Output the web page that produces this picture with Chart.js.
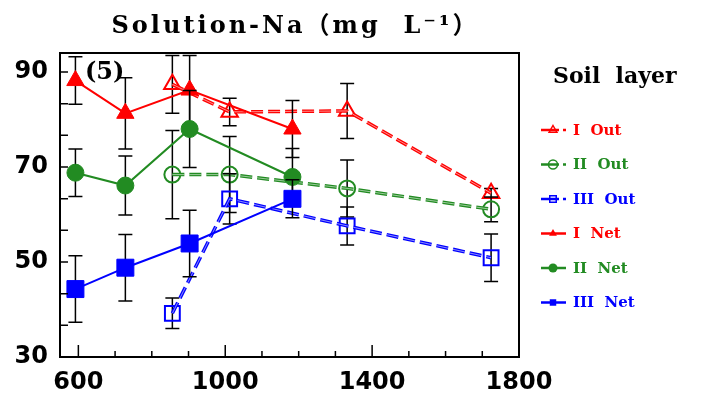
<!DOCTYPE html>
<html>
<head>
<meta charset="utf-8">
<script src="https://cdn.jsdelivr.net/npm/chart.js@4/dist/chart.umd.min.js"></script>
<style>
html, body { margin: 0; padding: 0; background: #fff; }
#wrap { width: 702px; height: 396px; }
</style>
</head>
<body>
<div id="wrap"><canvas id="na-chart"></canvas></div>
<script>
// x positions of the samples
const outX = [856, 1012, 1332, 1724];
const netX = [592, 728, 903, 1183];

// Solution-Na, mg/L
const outI = [87.4, 81.6, 81.8, 64.5];
const outII = [68.4, 68.4, 65.5, 61.1];
const outIII = [39.2, 63.3, 57.6, 50.9];
const netI = [88.2, 81.3, 86.2, 78.0];
const netII = [68.8, 66.1, 78.0, 67.9];
const netIII = [44.3, 48.8, 53.9, 63.3];

// error bars (+/-)
const outIErr = [6.1, 2.9, 5.8, 1.0];
const outIIErr = [9.3, 8.0, 6.0, 2.6];
const outIIIErr = [3.2, 5.3, 4.0, 5.0];
const netIErr = [5.0, 7.5, 7.3, 6.0];
const netIIErr = [5.0, 6.2, 8.1, 6.0];
const netIIIErr = [7.0, 7.0, 7.0, 4.0];

const seriesLabels = ['I  Out', 'II  Out', 'III  Out', 'I  Net', 'II  Net', 'III  Net'];
const xTicks = [600, 1000, 1400, 1800];
const yTicks = [30, 50, 70, 90];
const titleText = 'Solution-Na\uFF08mg  L\u207B\u00B9\uFF09';
const panelTag = '(5)';
const legendTitle = 'Soil  layer';

const RED = '#ff0000';
const GREEN = '#228b22';
const BLUE = '#0000ff';

function toPts(xs, ys) {
    return xs.map((x, i) => ({x: x, y: ys[i]}));
}

function outSet(label, xs, ys, err, color, style, r, order) {
    return {
        label: label, data: toPts(xs, ys), err: err,
        borderColor: color, borderWidth: 3.5, borderDash: [12, 5],
        pointStyle: style, pointRadius: r, pointBorderWidth: 2,
        pointBorderColor: color, pointBackgroundColor: 'rgba(0,0,0,0)',
        order: order, open: true
    };
}

function netSet(label, xs, ys, err, color, style, r, order) {
    return {
        label: label, data: toPts(xs, ys), err: err,
        borderColor: color, borderWidth: 2,
        pointStyle: style, pointRadius: r, pointBorderWidth: 1,
        pointBorderColor: color, pointBackgroundColor: color,
        order: order, open: false
    };
}

function drawMarker(c, style, x, y, r, filled, color) {
    c.beginPath();
    if (style === 'triangle') {
        c.moveTo(x, y - r);
        c.lineTo(x + r * 0.866, y + r / 2);
        c.lineTo(x - r * 0.866, y + r / 2);
        c.closePath();
    } else if (style === 'circle') {
        c.arc(x, y, r, 0, Math.PI * 2);
    } else {
        c.rect(x - r * 0.72, y - r * 0.72, r * 1.44, r * 1.44);
    }
    if (filled) {
        c.fillStyle = color;
        c.fill();
    } else {
        c.lineWidth = 1.5;
        c.strokeStyle = color;
        c.stroke();
    }
}

const decor = {
    id: 'decor',
    beforeDatasetDraw(chart, args) {
        const ds = chart.data.datasets[args.index];
        const ys = chart.scales.y;
        const c = chart.ctx;
        c.save();
        c.strokeStyle = '#000';
        c.lineWidth = 1.5;
        args.meta.data.forEach((pt, i) => {
            const v = ds.data[i].y;
            const e = ds.err[i];
            const top = ys.getPixelForValue(v + e);
            const bot = ys.getPixelForValue(v - e);
            c.beginPath();
            c.moveTo(pt.x, top); c.lineTo(pt.x, bot);
            c.moveTo(pt.x - 7, top); c.lineTo(pt.x + 7, top);
            c.moveTo(pt.x - 7, bot); c.lineTo(pt.x + 7, bot);
            c.stroke();
        });
        c.restore();
    },
    afterDatasetDraw(chart, args) {
        // light core on the dashed lines, like the double-stroked dashes of the original
        const ds = chart.data.datasets[args.index];
        if (!ds.open) return;
        const c = chart.ctx;
        const pts = args.meta.data;
        c.save();
        c.setLineDash([12, 5]);
        c.lineWidth = 1;
        c.strokeStyle = 'rgba(255,255,255,0.55)';
        c.beginPath();
        pts.forEach((pt, i) => { if (i === 0) c.moveTo(pt.x, pt.y); else c.lineTo(pt.x, pt.y); });
        c.stroke();
        c.restore();
    },
    afterDraw(chart) {
        const c = chart.ctx;
        const a = chart.chartArea;
        const xs = chart.scales.x;
        const ys = chart.scales.y;
        c.save();

        // inward tick marks
        c.strokeStyle = '#000';
        c.lineWidth = 1.5;
        c.beginPath();
        xs.ticks.forEach(t => {
            const px = xs.getPixelForValue(t.value);
            const len = xTicks.includes(t.value) ? 12 : 6;
            c.moveTo(px, a.bottom);
            c.lineTo(px, a.bottom - len);
        });
        ys.ticks.forEach(t => {
            const py = ys.getPixelForValue(t.value);
            c.moveTo(a.left, py);
            c.lineTo(a.left + 8, py);
        });
        c.stroke();

        // frame
        c.lineWidth = 2;
        c.strokeRect(a.left, a.top, a.right - a.left, a.bottom - a.top);

        // title and panel tag
        c.fillStyle = '#000';
        c.textAlign = 'center';
        c.textBaseline = 'alphabetic';
        c.font = 'bold 24px "DejaVu Serif", "Noto Sans CJK SC"';
        if ('letterSpacing' in c) c.letterSpacing = '3px';
        c.fillText(titleText, (a.left + a.right) / 2 + 6, 33);
        if ('letterSpacing' in c) c.letterSpacing = '0px';
        c.textAlign = 'left';
        c.font = 'bold 24px "DejaVu Serif"';
        c.fillText(panelTag, 85, 79);

        // legend
        c.font = 'bold 22px "DejaVu Serif"';
        c.fillText(legendTitle, 553, 83);
        c.font = 'bold 15px "DejaVu Serif"';
        c.textBaseline = 'middle';
        chart.data.datasets.forEach((ds, i) => {
            const y = 130 + i * 34.5;
            const col = ds.borderColor;
            c.strokeStyle = col;
            c.lineWidth = 2.5;
            c.beginPath();
            if (ds.open) {
                c.moveTo(541, y); c.lineTo(559, y);
                c.moveTo(563, y); c.lineTo(566, y);
            } else {
                c.moveTo(541, y); c.lineTo(566, y);
            }
            c.stroke();
            drawMarker(c, ds.pointStyle, 553, y, 4.5, !ds.open, col);
            c.fillStyle = col;
            c.fillText(ds.label, 573, y + 1);
        });
        c.restore();
    }
};

const tickFont = {family: 'DejaVu Sans', weight: 'bold', size: 24};

const naChart = new Chart(
    document.getElementById('na-chart').getContext('2d'),
    {
        type: 'line',
        data: {
            datasets: [
                outSet(seriesLabels[0], outX, outI, outIErr, RED, 'triangle', 9.5, 5),
                outSet(seriesLabels[1], outX, outII, outIIErr, GREEN, 'circle', 8, 4),
                outSet(seriesLabels[2], outX, outIII, outIIIErr, BLUE, 'rect', 10.5, 3),
                netSet(seriesLabels[3], netX, netI, netIErr, RED, 'triangle', 10, 2),
                netSet(seriesLabels[4], netX, netII, netIIErr, GREEN, 'circle', 8.5, 1),
                netSet(seriesLabels[5], netX, netIII, netIIIErr, BLUE, 'rect', 12, 0)
            ]
        },
        options: {
            responsive: true,
            maintainAspectRatio: false,
            animation: false,
            devicePixelRatio: 1,
            layout: {padding: {top: 53, right: 183, bottom: 0, left: 0}},
            plugins: {
                legend: {display: false},
                title: {display: false},
                tooltip: {enabled: false}
            },
            scales: {
                x: {
                    type: 'linear',
                    min: 550,
                    max: 1800,
                    grid: {display: false, drawTicks: false},
                    border: {display: false},
                    afterBuildTicks: function(s) {
                        const step = (xTicks[1] - xTicks[0]) / 4;
                        s.ticks = [];
                        for (let v = xTicks[0]; v <= xTicks[xTicks.length - 1]; v += step) {
                            s.ticks.push({value: v});
                        }
                    },
                    afterFit: function(s) { s.height = 39; },
                    ticks: {
                        autoSkip: false,
                        maxRotation: 0,
                        padding: 11,
                        color: '#000',
                        font: tickFont,
                        callback: v => xTicks.includes(v) ? String(v) : ''
                    }
                },
                y: {
                    min: 30,
                    max: 94,
                    grid: {display: false, drawTicks: false},
                    border: {display: false},
                    afterBuildTicks: function(s) {
                        const step = (yTicks[1] - yTicks[0]) / 3;
                        s.ticks = [];
                        for (let k = 0; k <= (yTicks.length - 1) * 3; k++) {
                            s.ticks.push({value: yTicks[0] + k * step});
                        }
                    },
                    afterFit: function(s) { s.width = 60; },
                    ticks: {
                        autoSkip: false,
                        padding: 12,
                        color: '#000',
                        font: tickFont,
                        callback: function(v) {
                            const hit = yTicks.find(t => Math.abs(t - v) < 1e-6);
                            return hit !== undefined ? String(hit) : '';
                        }
                    }
                }
            }
        },
        plugins: [decor]
    }
);
</script>
</body>
</html>
